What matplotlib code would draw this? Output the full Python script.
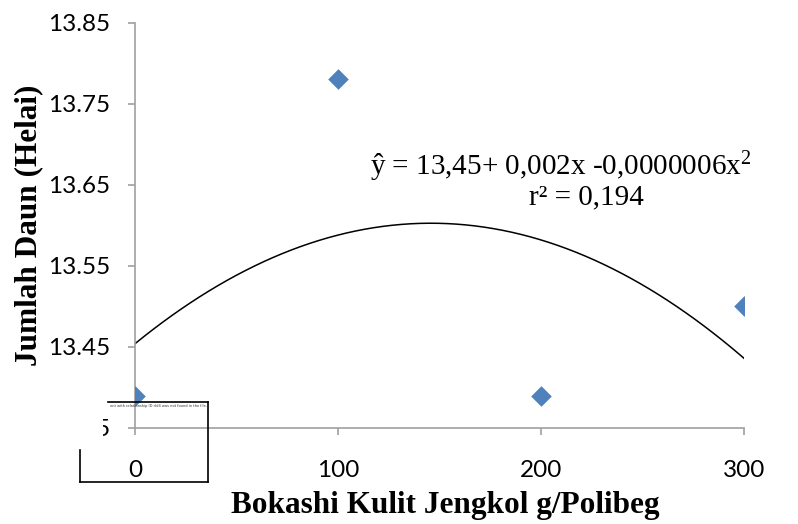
import numpy as np
import matplotlib
matplotlib.use("Agg")
import matplotlib.pyplot as plt
from matplotlib.lines import Line2D
from matplotlib.patches import Rectangle

# data
dose = [0, 100, 200, 300]
leaves = [13.39, 13.78, 13.39, 13.50]
y_ticks = [13.35, 13.45, 13.55, 13.65, 13.75, 13.85]
x_ticks = [0, 100, 200, 300]
equation = "ŷ = 13,45+ 0,002x -0,0000006x$^2$"
r_squared = "r² = 0,194"

W, H = 798, 524

plt.rcParams["mathtext.fontset"] = "custom"
plt.rcParams["mathtext.rm"] = "Liberation Serif"
plt.rcParams["mathtext.it"] = "Liberation Serif:italic"


def px(x, y):
    return x / W, 1 - y / H


fig = plt.figure(figsize=(W / 100, H / 100), dpi=100)
ax = fig.add_axes([135 / W, 1 - 428 / H, (744 - 135) / W, (428 - 22.7) / H])

# quadratic trend line fitted through the points
coef = np.polyfit(dose, leaves, 2)
xs = np.linspace(0, 300, 200)
ax.plot(xs, np.polyval(coef, xs), color="black", lw=1.1, zorder=2)
ax.scatter(dose, leaves, marker="D", s=110, color="#4F81BD", zorder=3, linewidths=0)

ax.set_xlim(0, 300)
ax.set_ylim(13.35, 13.85)
ax.set_xticks(x_ticks)
ax.set_yticks(y_ticks)
ax.set_yticklabels([f"{v:.2f}" for v in y_ticks])
for side in ("top", "right"):
    ax.spines[side].set_visible(False)
for side in ("left", "bottom"):
    ax.spines[side].set_color("#A0A0A0")
    ax.spines[side].set_linewidth(1.2)
ax.tick_params(axis="both", direction="out", length=5, width=1.2, color="#A0A0A0",
               labelsize=17.5)
ax.tick_params(axis="y", pad=13)
ax.tick_params(axis="x", pad=18)
for lab in ax.get_xticklabels() + ax.get_yticklabels():
    lab.set_family("Lato")

fig.text(*px(445, 513), "Bokashi Kulit Jengkol g/Polibeg", family="Liberation Serif",
         fontweight="bold", fontsize=22.5, ha="center", va="baseline")
fig.text(*px(29, 225), "Jumlah Daun (Helai)", family="Liberation Serif",
         fontweight="bold", fontsize=22.5, rotation=90, ha="center", va="center")

fig.text(*px(561, 175), equation, family="Liberation Serif", fontsize=21,
         ha="center", va="baseline")
fig.text(*px(586, 204), r_squared, family="Liberation Serif", fontsize=21,
         ha="center", va="baseline")

# broken image placeholder in the lower left corner
fig.add_artist(Rectangle(px(40, 449), 63 / W, 51 / H, transform=fig.transFigure,
                         facecolor="white", edgecolor="none", zorder=5))
box_lines = [
    ([108, 208], [402, 402]),
    ([208, 208], [402, 482]),
    ([80, 208], [482, 482]),
    ([80, 80], [450, 482]),
]
for bx, by in box_lines:
    fx = [v / W for v in bx]
    fy = [1 - v / H for v in by]
    fig.add_artist(Line2D(fx, fy, transform=fig.transFigure, color="black",
                          lw=1.2, zorder=6))
fig.text(*px(110, 406), "ent with relationship ID rId4 was not found in the file.",
         fontsize=2.6, color="#333333", ha="left", va="center", zorder=6)

fig.savefig("out.png", dpi=100)
